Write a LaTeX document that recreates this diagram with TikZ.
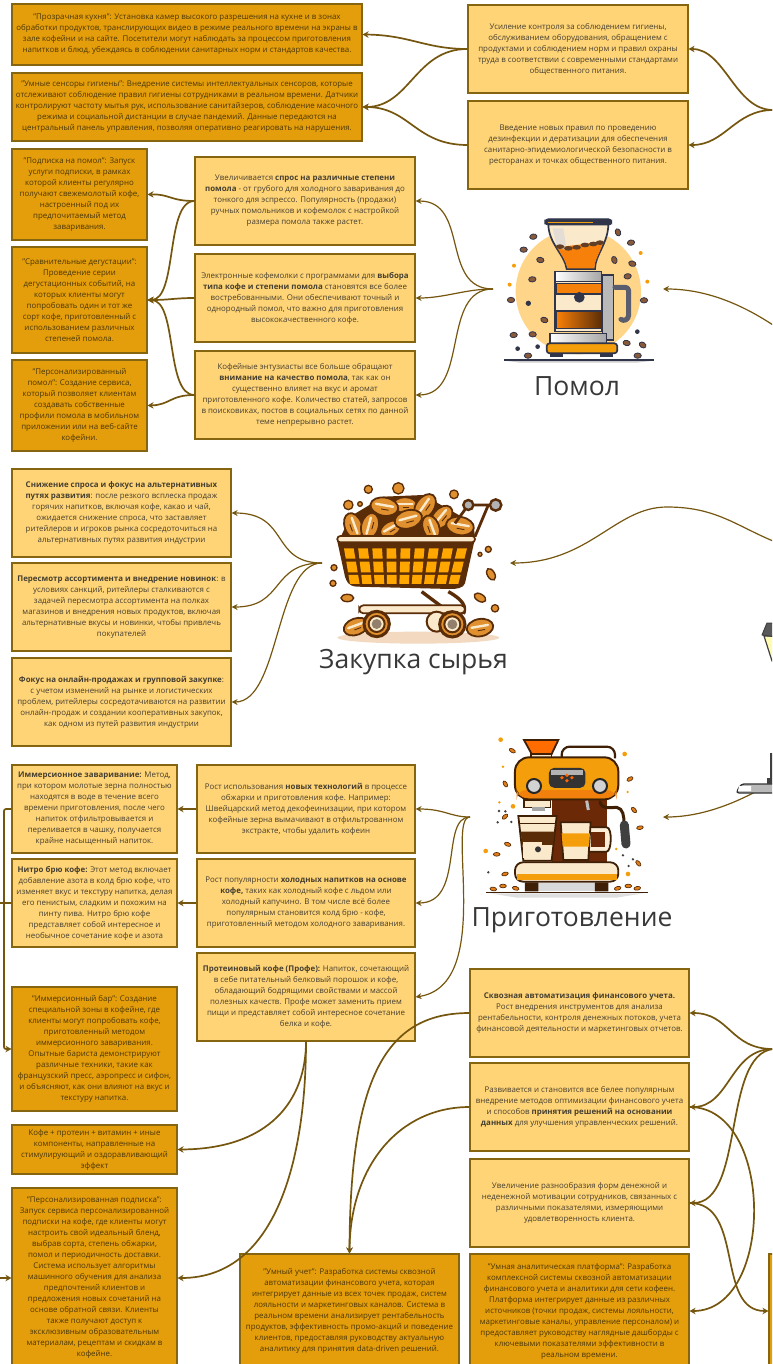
\documentclass[tikz,border=0pt]{standalone}
\usepackage{fontspec}
\setmainfont{Open Sans}
\usetikzlibrary{arrows.meta}
\definecolor{darkfill}{HTML}{E59E0B}
\definecolor{lightfill}{HTML}{FFD477}
\definecolor{edgecol}{HTML}{85650F}
\definecolor{linkcol}{HTML}{75560E}
\definecolor{txtdark}{HTML}{4A3708}
\definecolor{txtlight}{HTML}{453F30}
\definecolor{navy}{HTML}{30354A}
\definecolor{brn}{HTML}{5A2D08}
\definecolor{bnfill}{HTML}{8A5A38}
\definecolor{org}{HTML}{F59E0B}
\definecolor{cream}{HTML}{FBE9CC}
\definecolor{halo}{HTML}{FFD58A}
\definecolor{beanor}{HTML}{E0902E}
\tikzset{
 base/.style={draw=edgecol,line width=1.1pt,inner sep=0pt,align=center,font=\fontsize{7.9}{11}\selectfont},
 darkbox/.style={base,fill=darkfill,text=txtdark},
 lightbox/.style={base,fill=lightfill,text=txtlight},
 link/.style={draw=linkcol,line width=1.7pt,-{Stealth[length=6pt,width=6.5pt]}},
 thinlink/.style={draw=linkcol,line width=1.2pt,-{Stealth[length=6pt,width=6pt]}},
 title/.style={font=\fontsize{26.5}{30}\selectfont,text=black!78,inner sep=0pt}
}
\newcommand\bn[4][1]{\draw[draw=navy,fill=bnfill,line width=.8pt,rotate around={#4:(#2,#3)}] (#2,#3) ellipse ({11*#1} and {8*#1});}
\newcommand\bb[4][1]{\draw[draw=brn,fill=beanor,line width=1.8pt,rotate around={#4:(#2,#3)}] (#2,#3) ellipse ({40*#1} and {26*#1});
 \draw[cream,line width=2.4pt,line cap=round,rotate around={#4:(#2,#3)}] ({#2-25*#1},{#3-4*#1}) -- ({#2+25*#1},{#3-4*#1});
 \draw[brn,line width=.9pt,rotate around={#4:(#2,#3)}] ({#2-8*#1},{#3+8*#1}) -- ({#2+14*#1},{#3+8*#1});}
\newcommand\obean[3]{\draw[draw=brn,fill=beanor,line width=1.4pt,rotate around={#3:(#1,#2)}] (#1,#2) ellipse (19 and 11);}
\begin{document}
\begin{tikzpicture}[x=1pt,y=-1pt]
\useasboundingbox (0,0) rectangle (772,1364);
\clip (0,0) rectangle (772,1364);

% ---- boxes
\node[darkbox,minimum width=350,minimum height=61] (b1) at (187,34.5) {"Прозрачная кухня": Установка камер высокого разрешения на кухне и в зонах\\обработки продуктов, транслирующих видео в режиме реального времени на экраны в\\зале кофейни и на сайте. Посетители могут наблюдать за процессом приготовления\\напитков и блюд, убеждаясь в соблюдении санитарных норм и стандартов качества.};
\node[darkbox,minimum width=350,minimum height=68] (b2) at (187,107) {"Умные сенсоры гигиены": Внедрение системы интеллектуальных сенсоров, которые\\отслеживают соблюдение правил гигиены сотрудниками в реальном времени. Датчики\\контролируют частоту мытья рук, использование санитайзеров, соблюдение масочного\\режима и социальной дистанции в случае пандемий. Данные передаются на\\центральный панель управления, позволяя оперативно реагировать на нарушения.};
\node[darkbox,minimum width=135,minimum height=91] (b3) at (79.5,194.5) {"Подписка на помол": Запуск\\услуги подписки, в рамках\\которой клиенты регулярно\\получают свежемолотый кофе,\\настроенный под их\\предпочитаемый метод\\заваривания.};
\node[darkbox,minimum width=135,minimum height=106] (b4) at (79.5,300) {"Сравнительные дегустации":\\Проведение серии\\дегустационных событий, на\\которых клиенты могут\\попробовать один и тот же\\сорт кофе, приготовленный с\\использованием различных\\степеней помола.};
\node[darkbox,minimum width=135,minimum height=91] (b5) at (79.5,405.5) {"Персонализированный\\помол": Создание сервиса,\\который позволяет клиентам\\создавать собственные\\профили помола в мобильном\\приложении или на веб-сайте\\кофейни.};

\node[lightbox,minimum width=220,minimum height=88] (l1) at (578,49) {Усиление контроля за соблюдением гигиены,\\обслуживанием оборудования, обращением с\\продуктами и соблюдением норм и правил охраны\\труда в соответствии с современными стандартами\\общественного питания.};
\node[lightbox,minimum width=220,minimum height=88] (l2) at (578,145) {Введение новых правил по проведению\\дезинфекции и дератизации для обеспечения\\санитарно-эпидемиологической безопасности в\\ресторанах и точках общественного питания.};

\node[lightbox,minimum width=220,minimum height=88] (m1) at (305,201) {Увеличивается \textbf{спрос на различные степени}\\\textbf{помола} - от грубого для холодного заваривания до\\тонкого для эспрессо. Популярность (продажи)\\ручных помольников и кофемолок с настройкой\\размера помола также растет.};
\node[lightbox,minimum width=220,minimum height=88] (m2) at (305,298) {Электронные кофемолки с программами для \textbf{выбора}\\\textbf{типа кофе и степени помола} становятся все более\\востребованными. Они обеспечивают точный и\\однородный помол, что важно для приготовления\\высококачественного кофе.};
\node[lightbox,minimum width=220,minimum height=88] (m3) at (305,395) {Кофейные энтузиасты все больше обращают\\\textbf{внимание на качество помола}, так как он\\существенно влияет на вкус и аромат\\приготовленного кофе. Количество статей, запросов\\в поисковиках, постов в социальных сетях по данной\\теме непрерывно растет.};

\node[lightbox,minimum width=219,minimum height=88] (p1) at (121.5,513) {\textbf{Снижение спроса и фокус на альтернативных}\\\textbf{путях развития}: после резкого всплеска продаж\\горячих напитков, включая кофе, какао и чай,\\ожидается снижение спроса, что заставляет\\ритейлеров и игроков рынка сосредоточиться на\\альтернативных путях развития индустрии};
\node[lightbox,minimum width=219,minimum height=88] (p2) at (121.5,607) {\textbf{Пересмотр ассортимента и внедрение новинок}: в\\условиях санкций, ритейлеры сталкиваются с\\задачей пересмотра ассортимента на полках\\магазинов и внедрения новых продуктов, включая\\альтернативные вкусы и новинки, чтобы привлечь\\покупателей};
\node[lightbox,minimum width=219,minimum height=88] (p3) at (121.5,702) {\textbf{Фокус на онлайн-продажах и групповой закупке}:\\с учетом изменений на рынке и логистических\\проблем, ритейлеры сосредотачиваются на развитии\\онлайн-продаж и создании кооперативных закупок,\\как одном из путей развития индустрии};

\node[lightbox,minimum width=165,minimum height=88] (c1) at (94.5,809) {\textbf{Иммерсионное заваривание:} Метод,\\при котором молотые зерна полностью\\находятся в воде в течение всего\\времени приготовления, после чего\\напиток отфильтровывается и\\переливается в чашку, получается\\крайне насыщенный напиток.};
\node[lightbox,minimum width=165,minimum height=88] (c2) at (94.5,903) {\textbf{Нитро брю кофе:} Этот метод включает\\добавление азота в колд брю кофе, что\\изменяет вкус и текстуру напитка, делая\\его пенистым, сладким и похожим на\\пинту пива. Нитро брю кофе\\представляет собой интересное и\\необычное сочетание кофе и азота};
\node[lightbox,minimum width=218,minimum height=88] (d1) at (306,809) {Рост использования \textbf{новых технологий} в процессе\\обжарки и приготовления кофе. Например:\\Швейцарский метод декофеинизации, при котором\\кофейные зерна вымачивают в отфильтрованном\\экстракте, чтобы удалить кофеин};
\node[lightbox,minimum width=218,minimum height=88] (d2) at (306,903) {Рост популярности \textbf{холодных напитков на основе}\\\textbf{кофе,} таких как холодный кофе с льдом или\\холодный капучино. В том числе всё более\\популярным становится колд брю - кофе,\\приготовленный методом холодного заваривания.};
\node[lightbox,minimum width=218,minimum height=88] (d3) at (306,997) {\textbf{Протеиновый кофе (Профе):} Напиток, сочетающий\\в себе питательный белковый порошок и кофе,\\обладающий бодрящими свойствами и массой\\полезных качеств. Профе может заменить прием\\пищи и представляет собой интересное сочетание\\белка и кофе.};

\node[darkbox,minimum width=165,minimum height=124] (e1) at (94.5,1049) {"Иммерсионный бар": Создание\\специальной зоны в кофейне, где\\клиенты могут попробовать кофе,\\приготовленный методом\\иммерсионного заваривания.\\Опытные бариста демонстрируют\\различные техники, такие как\\французский пресс, аэропресс и сифон,\\и объясняют, как они влияют на вкус и\\текстуру напитка.};
\node[darkbox,minimum width=165,minimum height=49] (e2) at (94.5,1149.5) {Кофе + протеин + витамин + иные\\компоненты, направленные на\\стимулирующий и оздоравливающий\\эффект};
\node[darkbox,minimum width=165,minimum height=180] (e3) at (94.5,1278) {"Персонализированная подписка":\\Запуск сервиса персонализированной\\подписки на кофе, где клиенты могут\\настроить свой идеальный бленд,\\выбрав сорта, степень обжарки,\\помол и периодичность доставки.\\Система использует алгоритмы\\машинного обучения для анализа\\предпочтений клиентов и\\предложения новых сочетаний на\\основе обратной связи. Клиенты\\также получают доступ к\\эксклюзивным образовательным\\материалам, рецептам и скидкам в\\кофейне.};
\node[darkbox,minimum width=219,minimum height=114] (u1) at (349.5,1311) {"Умный учет": Разработка системы сквозной\\автоматизации финансового учета, которая\\интегрирует данные из всех точек продаж, систем\\лояльности и маркетинговых каналов. Система в\\реальном времени анализирует рентабельность\\продуктов, эффективность промо-акций и поведение\\клиентов, предоставляя руководству актуальную\\аналитику для принятия data-driven решений.};
\node[darkbox,minimum width=219,minimum height=114] (u2) at (579.5,1311) {"Умная аналитическая платформа": Разработка\\комплексной системы сквозной автоматизации\\финансового учета и аналитики для сети кофеен.\\Платформа интегрирует данные из различных\\источников (точки продаж, системы лояльности,\\маркетинговые каналы, управление персоналом) и\\предоставляет руководству наглядные дашборды с\\ключевыми показателями эффективности в\\реальном времени.};
\node[darkbox,minimum width=220,minimum height=114] (far) at (879,1311) {};
\node[lightbox,minimum width=219,minimum height=88] (f1) at (579.5,1013) {\textbf{Сквозная автоматизация финансового учета.}\\Рост внедрения инструментов для анализа\\рентабельности, контроля денежных потоков, учета\\финансовой деятельности и маркетинговых отчетов.};
\node[lightbox,minimum width=219,minimum height=88] (f2) at (579.5,1107) {Развивается и становится все белее популярным\\внедрение методов оптимизации финансового учета\\и способов \textbf{принятия решений на основании}\\\textbf{данных} для улучшения управленческих решений.};
\node[lightbox,minimum width=219,minimum height=88] (f3) at (579.5,1203) {Увеличение разнообразия форм денежной и\\неденежной мотивации сотрудников, связанных с\\различными показателями, измеряющими\\удовлетворенность клиента.};

% ---- titles
\node[title] (t1) at (577,386) {Помол};
\node[title] (t2) at (413.5,662) {Закупка сырья};
\node[title] (t3) at (572,920) {Приготовление};

% ---- free ends
\coordinate (hub1) at (773,110);
\coordinate (g1) at (493,289);
\coordinate (g1in) at (663,289);
\coordinate (hub2) at (773,325);
\coordinate (g2) at (322,563);
\coordinate (g2in) at (510,563);
\coordinate (hub3) at (773,541);
\coordinate (g3) at (470,817);
\coordinate (g3in) at (663,817);
\coordinate (hub4) at (757,791);
\coordinate (hub5) at (773,1049);
\coordinate (w1) at (-6,903);

% ---- connectors
\draw[link] (hub1) .. controls (735,110) and (725,49) .. (l1.east);
\draw[link] (hub1) .. controls (735,110) and (725,145) .. (l2.east);
\draw[link] (l1.west) .. controls (425,49) and (410,35) .. (b1.east);
\draw[link] (l1.west) .. controls (415,49) and (410,107) .. (b2.east);
\draw[link] (l2.west) .. controls (415,145) and (410,107) .. (b2.east);

\draw[thinlink] (g1) .. controls (440,289) and (470,201) .. (m1.east);
\draw[thinlink] (g1) .. controls (465,289) and (445,298) .. (m2.east);
\draw[thinlink] (g1) .. controls (440,289) and (470,395) .. (m3.east);
\draw[thinlink] (hub2) .. controls (735,300) and (700,289) .. (g1in);

\draw[link] (m1.west) .. controls (170,201) and (170,194) .. (b3.east);
\draw[link] (m1.west) .. controls (165,201) and (178,300) .. (b4.east);
\draw[link] (m2.west) .. controls (175,298) and (170,300) .. (b4.east);
\draw[link] (m3.west) .. controls (165,395) and (178,300) .. (b4.east);
\draw[link] (m3.west) .. controls (170,395) and (170,405) .. (b5.east);

\draw[thinlink] (g2) .. controls (270,563) and (290,513) .. (p1.east);
\draw[thinlink] (g2) .. controls (270,563) and (285,607) .. (p2.east);
\draw[thinlink] (g2) .. controls (275,563) and (280,702) .. (p3.east);
\draw[thinlink] (hub3) .. controls (735,525) and (715,507) .. (667,507) .. controls (615,507) and (590,563) .. (g2in);

\draw[thinlink] (g3) .. controls (450,817) and (445,809) .. (d1.east);
\draw[thinlink] (g3) .. controls (440,817) and (465,903) .. (d2.east);
\draw[thinlink] (g3) .. controls (445,817) and (495,985) .. (d3.east);
\draw[thinlink] (hub4) .. controls (725,808) and (695,817) .. (g3in);

\draw[link] (d1.west) -- (c1.east);
\draw[link] (d2.west) -- (c2.east);
\draw[link,rounded corners=2pt] (c1.west) -- (4,809) -- (4,1049) -- (e1.west);
\draw[link,rounded corners=2pt] (c2.west) -- (w1) -- (-6,1278) -- (e3.west);

\draw[link] (d3.south) .. controls (306,1100) and (270,1149) .. (e2.east);
\draw[link] (d3.south) .. controls (306,1150) and (280,1278) .. (e3.east);
\draw[link] (f1.west) .. controls (390,1013) and (350,1070) .. (u1.north);
\draw[link] (f2.west) .. controls (400,1107) and (350,1165) .. (u1.north);

\draw[link] (hub5) .. controls (730,1049) and (730,1013) .. (f1.east);
\draw[link] (hub5) .. controls (730,1049) and (730,1107) .. (f2.east);
\draw[link] (hub5) .. controls (722,1055) and (745,1203) .. (f3.east);
\draw[link] (f2.east) .. controls (775,1107) and (775,1311) .. (u2.east);
\draw[link] (f3.east) .. controls (745,1203) and (715,1311) .. (far.west);

% ---- grinder icon
\begin{scope}[shift={(420,200)},x=.3333pt,y=-.3333pt]
\fill[halo] (475,275) circle (188);
\fill[gray!40] (252,482) -- (702,482) -- (650,488) -- (300,488) -- cycle;
\draw[navy,line width=1.1pt] (252,480) -- (702,480);
\draw[navy,fill=gray!55,line width=1.5pt] (548,225) -- (580,225) -- (580,420) -- (548,420) -- cycle;
\draw[navy!80,line width=5pt,line cap=round,line join=round] (585,262) -- (615,262) .. controls (628,262) and (626,275) .. (626,285) -- (626,345) .. controls (626,360) and (610,365) .. (603,358);
\draw[navy,fill=cream,line width=1.7pt] (385,72) -- (565,72) .. controls (565,130) and (525,165) .. (525,207) -- (440,207) .. controls (435,165) and (385,130) .. (385,72) -- cycle;
\fill[orange!85!brown] (412,142) -- (550,125) .. controls (540,160) and (523,180) .. (523,205) -- (442,205) .. controls (438,180) and (420,160) .. (412,142) -- cycle;
\fill[gray!30,opacity=.7] (398,85) -- (430,85) -- (440,150) -- (412,145) -- cycle;
\foreach \xx/\yy in {420/140,445/145,470/142,495/135,520/132,540/128}{\fill[bnfill!70!black] (\xx,\yy) ellipse (13 and 7);}
\draw[navy,fill=navy,line width=1pt,rounded corners=3pt] (375,57) rectangle (575,75);
\draw[org,line width=.8pt] (385,66) -- (520,66);
\draw[navy,line width=1.6pt,fill=cream] (405,245) rectangle (545,395);
\draw[navy,line width=1.6pt,left color=white,right color=gray!70] (405,215) rectangle (545,245);
\draw[navy,line width=1.2pt,fill=orange!85!brown] (410,250) rectangle (545,282);
\draw[navy,line width=1.2pt,left color=orange!90!brown,right color=brn] (410,333) rectangle (545,385);
\fill[navy] (478,292) circle (16);
\draw[navy,line width=1.6pt,left color=white,right color=gray!70] (390,400) rectangle (560,430);
\draw[navy,line width=1.7pt,fill=org,rounded corners=3pt] (380,430) rectangle (592,460);
\fill[navy] (390,460) rectangle (430,472);
\fill[navy] (540,460) rectangle (578,472);
\bn{340}{110}{10}\bn{311}{149}{0}\bn{361}{180}{-10}\bn{337}{238}{5}\bn{273}{300}{0}\bn{373}{360}{-20}
\bn{281}{405}{5}\bn{338}{403}{-5}\bn{324}{467}{0}\bn{594}{97}{-70}\bn{633}{128}{10}\bn{637}{191}{-15}
\bn{583}{180}{-70}\bn{623}{229}{10}\bn{672}{301}{0}\bn{620}{429}{-15}\bn{668}{435}{-35}\bn{653}{467}{0}
\fill[navy] (325,310) circle (8);\fill[navy] (293,446) circle (7);\fill[navy] (353,440) circle (7);\fill[navy] (652,395) circle (7);
\fill[org] (662,159) circle (6);\fill[org] (282,197) circle (6);\fill[org] (269,254) circle (6);\fill[org] (682,245) circle (6);
\end{scope}

% ---- cart icon
\begin{scope}[shift={(300,460)},x=.3333pt,y=-.3333pt]
\fill[orange!30!brown!30!white] (355,533) ellipse (243 and 18);
\fill[brn] (125,225) -- (150,170) -- (250,110) -- (370,105) -- (450,150) -- (520,190) -- (525,230) -- cycle;
\bb[1]{160}{198}{-70}\bb[.9]{315}{135}{0}\bb[1]{425}{172}{50}\bb[1.05]{375}{140}{55}\bb[1.05]{253}{140}{-10}
\bb[1]{210}{198}{75}\bb[.85]{272}{207}{30}\bb[1.05]{325}{178}{15}\bb[.95]{393}{203}{-70}\bb[1.05]{480}{198}{-10}
\draw[brn,line width=2.8pt,line join=round] (465,190) -- (505,135) -- (587,135);
\draw[brn,line width=2.8pt,line join=round] (525,230) -- (565,135);
\fill[brn,line join=round] (110,235) -- (525,235) -- (495,370) .. controls (490,385) and (470,387) .. (450,387) -- (170,380) .. controls (145,378) and (140,365) .. (135,350) -- cycle;
\foreach \i in {0,...,8}{\foreach \ya/\yb in {265/296,305/337,345/372}{
 \pgfmathsetmacro\xa{(132+\i*42.5)+(\ya-265)/107*(18-\i*5.5)}
 \pgfmathsetmacro\xb{(132+\i*42.5)+(\yb-265)/107*(18-\i*5.5)}
 \fill[orange!70!yellow] (\xa,\ya) -- ({\xa+29},\ya) -- ({\xb+29},\yb) -- (\xb,\yb) -- cycle;}}
\draw[brn,fill=cream,line width=1.7pt,rounded corners=3pt] (112,228) rectangle (525,247);
\draw[brn,line width=2.4pt,fill=gray!60] (505,135) circle (15);
\draw[brn,line width=2.4pt,fill=gray!60] (587,135) circle (17);
\draw[brn,line width=3.4pt,line join=round] (365,395) -- (425,440) (445,395) .. controls (490,420) and (500,440) .. (490,462);
\draw[brn,line width=1.7pt,fill=cream,rounded corners=4pt] (178,436) rectangle (495,460);
\bb[.95]{168}{500}{20}\bb[1]{540}{503}{10}
\draw[brn,line width=2pt,fill=cream] (410,485) circle (30);
\foreach \xx/\yy in {230/492,457/493}{\draw[brn,line width=3pt,fill=beanor] (\xx,\yy) circle (38);\draw[brn,line width=2pt,fill=cream] (\xx,\yy) circle (24);\fill[gray!70!brown] (\xx,\yy) circle (15);}
\obean{142}{414}{0}\obean{540}{413}{-30}\obean{573}{343}{-60}
\foreach \xx/\yy/\rr in {205/88/12,295/85/17,462/103/13,145/135/14,180/132/7,565/268/9,540/283/6,102/323/9,99/370/9,585/445/11}{\draw[brn,fill=beanor,line width=1.3pt] (\xx,\yy) circle (\rr);}
\end{scope}

% ---- espresso machine icon
\begin{scope}[shift={(430,730)},x=.3333pt,y=-.3333pt]
\fill[gray!25] (180,490) -- (640,490) -- (560,503) -- (260,503) -- cycle;
\draw[brn!70!black,line width=2.2pt,rounded corners=8pt] (395,85) -- (395,50) -- (555,50) -- (555,85);
\draw[brn!70!black,line width=1.8pt,fill=orange!85!red] (282,30) -- (385,30) -- (365,72) -- (305,72) -- cycle;
\draw[brn!70!black,line width=1.2pt,fill=cream] (303,72) rectangle (365,82);
\fill[brn!90!red] (365,205) rectangle (530,400);
\draw[brn!70!black,line width=2pt,fill=org,rounded corners=14pt] (255,82) rectangle (565,208);
\fill[orange!80!brown,rounded corners=10pt] (260,180) rectangle (560,204);
\draw[black!80,fill=black!80,line width=1pt,rounded corners=5pt] (358,115) rectangle (465,172);
\fill[gray!60] (364,120) rectangle (460,134);
\foreach \xx/\yy in {396/143,411/136,426/143,411/152}{\fill[orange!80!red] (\xx,\yy) circle (5.5);}
\foreach \xx in {312,510}{\draw[black!85,line width=2pt,fill=gray!35] (\xx,168) circle (21);}
\draw[brn!70!black,line width=1.5pt,fill=cream] (282,210) rectangle (362,232);
\fill[gray!70] (305,232) rectangle (345,243);
\draw[gray!50,line width=3pt] (470,212) -- (475,240);
\draw[brn!70!black,line width=3pt,line cap=round] (510,215) .. controls (515,240) and (540,232) .. (560,232) .. controls (580,235) and (582,260) .. (582,280);
\draw[black!75,line width=9pt,line cap=round] (583,285) -- (588,342);
\draw[brn!70!black,line width=1.8pt,fill=cream] (265,258) -- (380,258) -- (365,392) -- (280,392) -- cycle;
\fill[brn] (272,305) -- (374,305) -- (369,345) -- (277,345) -- cycle;
\fill[cream] (280,335) rectangle (335,385);
\fill[black!80] (324,358) circle (9);
\draw[brn!70!black,line width=1.6pt] (268,280) -- (377,280);
\draw[brn!70!black,line width=1.8pt,fill=cream!80!white] (482,292) -- (530,292) .. controls (548,292) and (545,365) .. (530,365) -- (478,365);
\fill[brn!90!red] (484,306) rectangle (526,350);
\draw[brn!70!black,line width=1.8pt,fill=cream] (392,277) -- (482,277) -- (475,390) -- (400,390) -- cycle;
\fill[org] (395,310) -- (480,310) -- (477,350) -- (398,350) -- cycle;
\draw[brn!70!black,line width=1.8pt,fill=cream,rounded corners=8pt] (255,397) rectangle (565,455);
\fill[org] (260,432) rectangle (560,450);
\fill[gray!30] (325,458) rectangle (495,484);
\fill[brn!70!black] (285,457) rectangle (325,484) (495,457) rectangle (535,484);
\draw[brn!70!black,line width=1.4pt] (168,487) -- (655,487);
\foreach \xx/\yy/\rt in {247/62/-30,226/162/-60,600/147/30,225/260/40,612/240/-50,630/293/10,233/343/-20,200/373/0,625/400/-50,225/432/15,190/477/-10,219/468/0,257/475/-15,563/475/15,595/468/0,622/475/10}{\draw[brn,fill=orange!60!brown,line width=.7pt,rotate around={\rt:(\xx,\yy)}] (\xx,\yy) ellipse (10 and 5.5);}
\foreach \xx/\yy/\rr in {212/29/7,584/72/7,219/110/4,593/186/4,208/217/4,249/229/7,167/363/7,594/432/7,559/357/4}{\fill[org] (\xx,\yy) circle (\rr);}
\foreach \xx/\yy in {207/243,226/244,203/277,244/276,175/427,579/376,609/388,596/408}{\fill[black!75] (\xx,\yy) circle (4);}
\end{scope}

% ---- central icon fragments at the right edge
\draw[black!75,fill=yellow!30,line width=1.2pt] (764,636) -- (772,661) -- (776,661) -- (776,636) -- cycle;
\draw[black!75,fill=black!65,line width=1pt,line join=round] (776,623) -- (767,623) -- (762,635) -- (776,637) -- cycle;
\draw[black!80,fill=gray!55,line width=1.3pt,rounded corners=3pt] (736,793) -- (741,784) -- (776,784) -- (776,793) -- cycle;
\fill[white] (739,786) -- (751,786) -- (751,791) -- (738,791) -- cycle;
\fill[black!75] (770,753) rectangle (776,784);
\fill[black!75] (767,778) rectangle (772,784);
\end{tikzpicture}
\end{document}
